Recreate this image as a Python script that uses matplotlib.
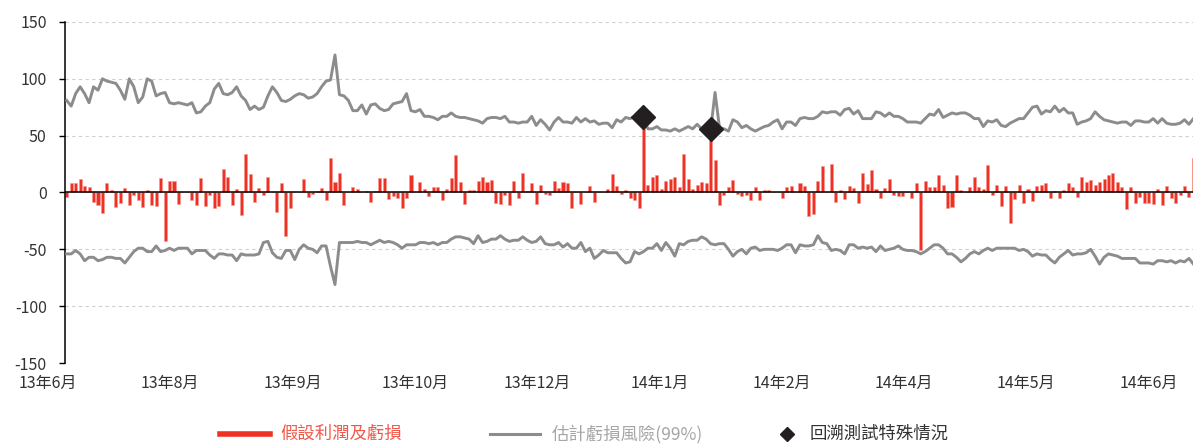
import numpy as np
import matplotlib
matplotlib.use("Agg")
import matplotlib.pyplot as plt
from matplotlib.lines import Line2D
from matplotlib.transforms import blended_transform_factory

plt.rcParams['font.family'] = ['Noto Sans CJK TC', 'DejaVu Sans']
plt.rcParams['axes.unicode_minus'] = False

# daily hypothetical P&L
pnl = [
    -4, 8, 8, 12, 6, 5, -8, -11, -18, 8, 2, -13, -9, 4, -11, -2, -7, -13, 2, -11,
    -12, 13, -43, 10, 10, -10, 0, 0, -7, -11, 13, -12, -2, -14, -12, 21, 14, -11, 3, -20,
    34, 16, -8, 4, -2, 14, 0, -17, 8, -38, -14, 0, 0, 12, -4, -1, 1, 4, -7, 30,
    9, 17, -11,
    0, 5, 3, 0, 1, -8, 1.5, 13, 13, -6, -3.5, -4.5, -14, -5, 15, 0, 9, 3.5, -3, 5,
    5, -7, 3, 13, 33, 9, -10, 2, 2, 10, 14, 9, 11, -9, -10, -2, -11, 10, -5, 17,
    1, 8, -10, 6.5, -1.5, -2.5, 10, 4, 9, 8, -14, 0, -10, 0, 6, -8, 0, 0, 3, 16,
    6, -1, 2,
    -4.5, -7, -14, 66, 6.5, 14, 15, 3, 10.5, 12, 14, 5, 33.5, 12, 3.5, 7, 9, 8, 56, 28.5,
    -11, -2, 5, 11, -1.5, -3.5, -2, -6.5, 5, -7, 2.5, 2.5, 0, 0, -4.5, 4.5, 5.5, 0, 8, 5.5,
    -20.5, -19, 10, 23, 0, 25, -8, 2, -5.5, 6, 4, -9, 17, 7.5, 19.5, 3, -4.5, 4, 12, -2,
    -3, -3.5, 0,
    -5, 8, -50.5, 10, 4.5, 4.5, 15, 6.5, -14, -13, 15.5, 2.5, 0, 4.5, 14, 4.5, 3, 24, -2, 6.5,
    -12, 5.5, -27, -5.5, 7, -9, 3, -7.5, 5.5, 7, 8, -4.5, 1, -4.5, 2, 8, 4.5, -4, 14, 9.5,
    11, 7, 9, 11.5, 15, 17.5, 9, 5, -14.5, 4.5, -9.5, -4, -9.5, -9, -10.5, 3.5, -11, 5.5, -5, -9.5,
    -2.5, 6, -4, 30,
]

# estimated 99% VaR, upper and lower band
var_up = [
    81, 76, 87, 93, 87, 79, 93, 90, 100, 98, 97, 96, 90, 82, 100, 93, 79, 84, 100, 98,
    85, 87, 88, 79, 78, 79, 78, 77, 79, 70, 71, 76, 79, 91, 96, 87, 86, 88, 93, 85,
    81, 73, 76, 73, 75, 85, 93, 88, 81, 80, 82, 85, 87, 86, 83, 84, 87, 93, 98, 99,
    121, 86, 85,
    81, 72, 72, 77, 69, 77, 78, 74, 72, 73, 78, 79, 80, 87, 72, 71, 73, 67, 67, 66,
    64, 67, 67, 70, 67, 66, 66, 65, 64, 63, 61, 65, 66, 66, 65, 67, 62, 62, 61, 62,
    62, 67, 59, 64, 60, 55, 62, 66, 62, 62, 61, 66, 62, 65, 62, 63, 60, 61, 61, 57,
    64, 62, 66,
    65, 67, 63, 65, 56, 56, 58, 55, 55, 54, 56, 54, 56, 58, 56, 60, 56, 59, 54, 88,
    57, 56, 54, 64, 62, 57, 59, 56, 54, 56, 58, 59, 62, 64, 56, 62, 62, 59, 65, 66,
    65, 65, 67, 71, 70, 71, 71, 68, 73, 74, 69, 72, 65, 65, 65, 71, 70, 67, 70, 67,
    67, 65, 62,
    62, 62, 61, 65, 69, 68, 73, 66, 68, 70, 69, 70, 70, 68, 65, 65, 58, 63, 62, 64,
    59, 58, 61, 63, 65, 65, 70, 75, 76, 69, 72, 71, 76, 71, 74, 70, 70, 60, 62, 63,
    65, 71, 67, 64, 63, 62, 61, 62, 62, 59, 63, 63, 62, 62, 65, 61, 65, 61, 60, 60,
    61, 64, 60, 65,
]

var_dn = [
    -54, -54, -51, -54, -60, -57, -57, -60, -59, -57, -57, -58, -58, -62, -57, -52, -49, -49, -52, -52,
    -47, -52, -51, -49, -51, -49, -49, -49, -54, -51, -51, -51, -55, -58, -54, -54, -55, -55, -60, -54,
    -55, -55, -55, -54, -44, -43, -53, -57, -58, -51, -51, -59, -50, -46, -49, -50, -53, -47, -47, -65,
    -81, -44, -44,
    -44, -44, -43, -44, -44, -46, -44, -42, -44, -43, -44, -46, -49, -46, -46, -46, -44, -44, -45, -44,
    -46, -44, -44, -41, -39, -39, -40, -41, -45, -38, -44, -43, -41, -41, -38, -41, -43, -42, -42, -39,
    -42, -44, -43, -39, -45, -46, -46, -44, -48, -45, -49, -49, -44, -52, -49, -58, -55, -51, -53, -53,
    -53, -58, -62,
    -61, -52, -54, -52, -49, -49, -45, -51, -44, -49, -56, -45, -46, -43, -42, -42, -39, -41, -45, -46,
    -45, -45, -50, -56, -52, -50, -54, -49, -48, -51, -50, -50, -50, -51, -49, -46, -46, -53, -46, -47,
    -47, -46, -38, -44, -45, -51, -50, -51, -54, -46, -46, -49, -48, -49, -48, -52, -47, -51, -50, -49,
    -47, -50, -51,
    -51, -52, -54, -52, -49, -46, -46, -49, -54, -54, -57, -61, -58, -54, -52, -54, -51, -49, -51, -49,
    -49, -49, -49, -49, -51, -50, -52, -56, -54, -55, -55, -59, -62, -57, -54, -51, -55, -54, -54, -53,
    -50, -56, -63, -57, -54, -55, -56, -58, -58, -58, -58, -62, -62, -62, -63, -60, -60, -61, -60, -62,
    -60, -61, -58, -63,
]

month_labels = ['13年6月', '13年8月', '13年9月', '13年10月', '13年12月',
                '14年1月', '14年2月', '14年4月', '14年5月', '14年6月']

RED = '#ee3124'
GRAY = '#8c8c8c'
DARK = '#231f20'

W, H = 1193, 444
fig = plt.figure(figsize=(W / 100, H / 100), dpi=100)
ax = fig.add_axes([64.7 / W, 1 - 363 / H, (W - 64.7) / W, (363 - 22) / H])

x = np.arange(len(pnl))
pnl_a = np.array(pnl, dtype=float)
up_a = np.array(var_up, dtype=float)

ax.bar(x, pnl_a, width=0.68, color=RED, edgecolor='#f6978f', linewidth=0.4, zorder=2)
ax.axhline(0, color='black', lw=1.1, zorder=2.5)
ax.plot(x, var_up, color=GRAY, lw=2.1, zorder=3, solid_joinstyle='round')
ax.plot(x, var_dn, color=GRAY, lw=2.1, zorder=3, solid_joinstyle='round')

# backtesting exceptions: P&L above the VaR band
exc = pnl_a > up_a
ax.plot(x[exc], pnl_a[exc], 'D', color=DARK, markersize=12, zorder=4)

ax.set_xlim(-0.45, 251.9)
ax.set_ylim(-150, 150)
ax.set_yticks(np.arange(-150, 151, 50))
ax.yaxis.grid(True, color='#cfcfcf', ls=(0, (3, 3)), lw=0.8)
ax.set_axisbelow(True)
for s in ['top', 'right', 'bottom']:
    ax.spines[s].set_visible(False)
ax.spines['left'].set_linewidth(1.1)
ax.tick_params(axis='y', length=4, width=1, pad=9, labelsize=11.5, labelcolor='#333333')
ax.set_xticks([])

# month labels spaced evenly along the category axis
step = 27.35
tr = blended_transform_factory(ax.transData, ax.transAxes)
for i, lab in enumerate(month_labels):
    ax.text(-4.2 + step * i, -0.035, lab, transform=tr, ha='center', va='top',
            fontsize=11.5, color='#333333', clip_on=False)

# legend
ly = 1 - 434 / H
fig.add_artist(Line2D([220 / W, 270 / W], [ly, ly], color=RED, lw=4, transform=fig.transFigure))
fig.text(280 / W, ly, '假設利潤及虧損', color='#f1594c', fontsize=12.5, va='center')
fig.add_artist(Line2D([490 / W, 540 / W], [ly, ly], color=GRAY, lw=2.2, transform=fig.transFigure))
fig.text(552 / W, ly, '估計虧損風險(99%)', color='#a6a6a6', fontsize=12.5, va='center')
fig.add_artist(Line2D([787 / W], [ly], marker='D', color=DARK, markersize=7, transform=fig.transFigure))
fig.text(810 / W, ly, '回溯測試特殊情況', color='#333333', fontsize=12.5, va='center')

fig.savefig('out.png', dpi=100)
